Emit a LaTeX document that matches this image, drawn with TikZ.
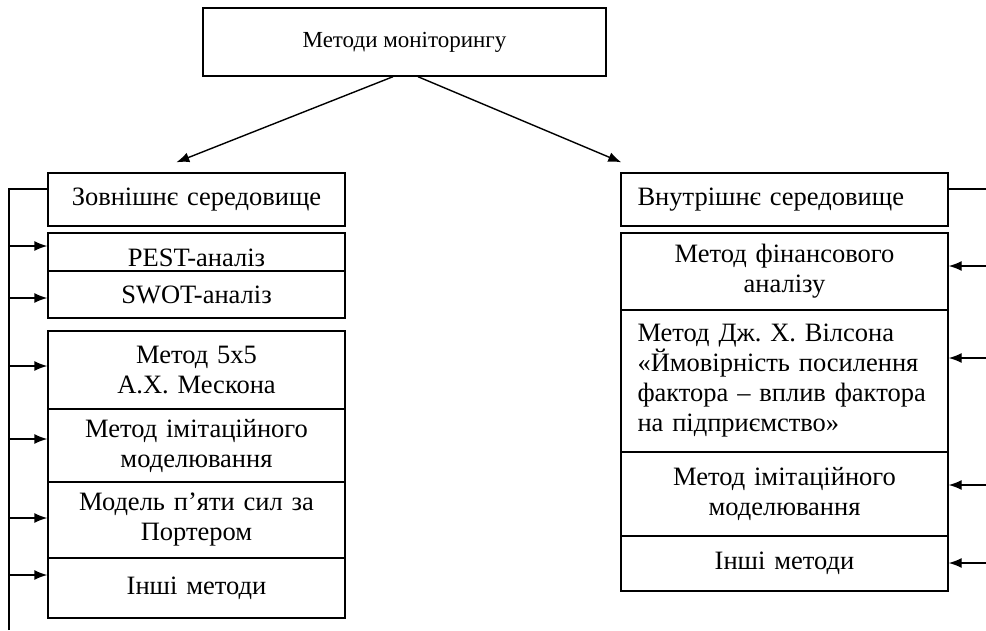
\documentclass[tikz,border=0pt]{standalone}
\usepackage{fontspec}
\setmainfont{Liberation Serif}
\usetikzlibrary{arrows.meta,calc}
\newcommand{\mainsz}{\fontsize{26.5}{30}\selectfont\frenchspacing}
\newcommand{\topsz}{\fontsize{23}{27}\selectfont\frenchspacing}
\begin{document}
\begin{tikzpicture}[x=1pt,y=-1pt,
  every node/.style={font=\mainsz},
  box/.style={draw, line width=1.4pt, inner sep=0pt, align=center},
  lbox/.style={box, minimum width=297pt, text width=290pt},
  rbox/.style={box, minimum width=327pt, text width=294pt},
  ln/.style={line width=1.4pt},
  arr/.style={ln, -{Latex[length=13pt,width=10pt]}}]
\useasboundingbox (0,0) rectangle (986,630);
% top
\node[box, minimum width=403pt, minimum height=68pt, font=\topsz] (top) at (404.5,42) {Методи моніторингу};
% left column
\node[lbox, minimum height=53pt] (zov) at (196.5,199.5) {Зовнішнє середовище};
\node[lbox, minimum height=38pt, label={[font=\mainsz, yshift=-6pt]center:PEST-аналіз}] (pest) at (196.5,252) {};
\node[lbox, minimum height=47pt] (swot) at (196.5,294.5) {SWOT-аналіз};
\node[lbox, minimum height=78pt] (m5) at (196.5,370) {Метод 5x5\\А.Х. Мескона};
\node[lbox, minimum height=73pt] (imL) at (196.5,445.5) {Метод імітаційного\\моделювання};
\node[lbox, minimum height=76pt] (por) at (196.5,520) {Модель п’яти сил за\\Портером};
\node[lbox, minimum height=60pt] (othL) at (196.5,588) {Інші методи};
% right column
\node[rbox, minimum height=53pt, align=left] (vnu) at (784.5,199.5) {Внутрішнє середовище};
\node[rbox, minimum height=77pt] (fin) at (784.5,271.5) {Метод фінансового\\аналізу};
\node[rbox, minimum height=142pt, align=left] (wil) at (784.5,381)
  {Метод Дж. Х. Вілсона\\\makebox[294pt][s]{«Ймовірність посилення}\\\makebox[294pt][s]{фактора – вплив фактора}\\на підприємство»};
\node[rbox, minimum height=84pt] (imR) at (784.5,494) {Метод імітаційного\\моделювання};
\node[rbox, minimum height=55pt] (othR) at (784.5,563.5) {Інші методи};
% top arrows
\draw[arr] ($(top.south)+(-11.5,0)$) -- ($(zov.north west)+(129,-10)$);
\draw[arr] ($(top.south)+(13.5,0)$) -- ($(vnu.north west)+(1,-10)$);
% left spine
\coordinate (sTop) at (9,189);
\coordinate (sBot) at (9,630);
\draw[ln] (sBot) -- (sTop) -- (sTop -| zov.west);
\coordinate (a1) at (9,246);
\coordinate (a2) at (9,298);
\coordinate (a3) at (9,366);
\coordinate (a4) at (9,439);
\coordinate (a5) at (9,518);
\coordinate (a6) at (9,575);
\draw[arr] (a1) -- (a1 -| pest.west);
\draw[arr] (a2) -- (a2 -| swot.west);
\draw[arr] (a3) -- (a3 -| m5.west);
\draw[arr] (a4) -- (a4 -| imL.west);
\draw[arr] (a5) -- (a5 -| por.west);
\draw[arr] (a6) -- (a6 -| othL.west);
% right side
\coordinate (rTop) at (986,189);
\draw[ln] (vnu.east |- rTop) -- (rTop);
\coordinate (b1) at (986,266);
\coordinate (b2) at (986,358);
\coordinate (b3) at (986,485);
\coordinate (b4) at (986,563);
\draw[arr] (b1) -- (b1 -| fin.east);
\draw[arr] (b2) -- (b2 -| wil.east);
\draw[arr] (b3) -- (b3 -| imR.east);
\draw[arr] (b4) -- (b4 -| othR.east);
\end{tikzpicture}
\end{document}
